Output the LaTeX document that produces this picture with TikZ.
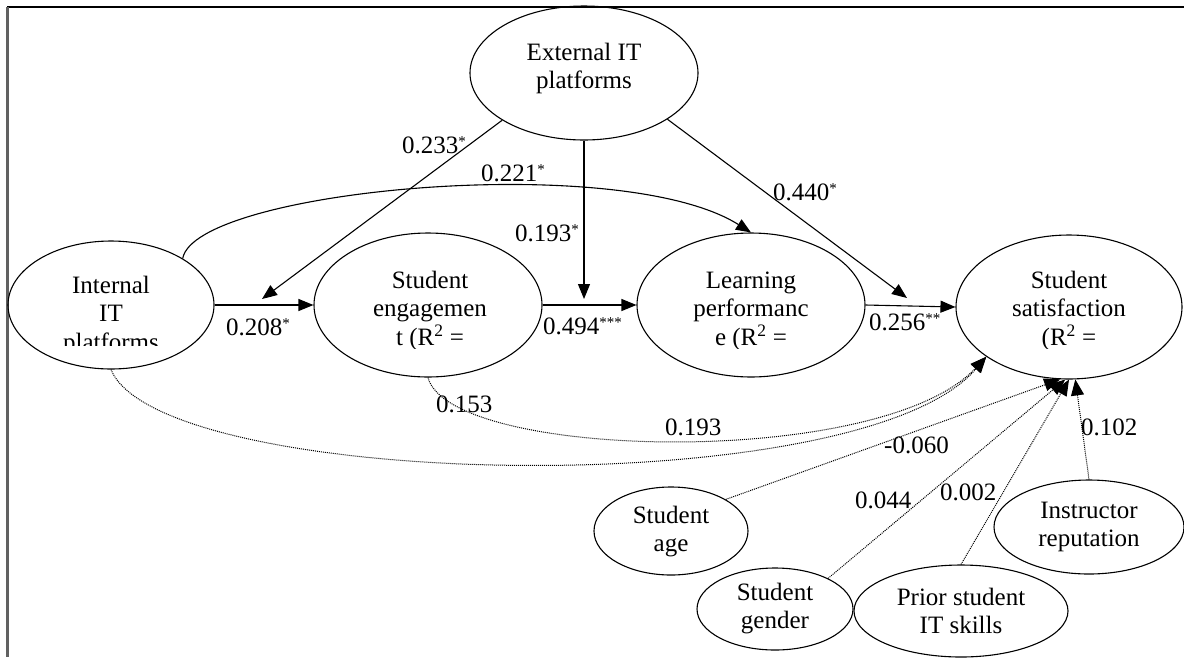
\documentclass[tikz,border=0pt]{standalone}
\usepackage{fontspec}
\setmainfont{Liberation Serif}
\usetikzlibrary{shapes.geometric,arrows.meta}
\newcommand\nodetxt{\fontsize{25}{28.5}\selectfont}
\newcommand\rows[1]{\begin{tabular}[t]{@{}c@{}}#1\end{tabular}}
\newcommand\sig[1]{\raisebox{7pt}{\fontsize{15}{15}\selectfont #1}}

\begin{document}
\begin{tikzpicture}[x=1pt,y=-1pt,
  construct/.style={draw, ellipse, line width=1.1pt, inner sep=0pt},
  caption/.style={anchor=base, inner sep=0pt, font=\nodetxt},
  coef/.style={anchor=base west, inner sep=0pt, font=\nodetxt},
  link/.style={line width=1.1pt, -{Triangle[length=15pt,width=12pt]}},
  ctrl/.style={line width=1pt, dash pattern=on 1pt off 1pt, -{Triangle[length=16pt,width=13pt]}},
]
\useasboundingbox (0,0) rectangle (1184,657);
\fill[white] (0,0) rectangle (1184,657);

% frame
\draw[line width=1.2pt] (7,7) -- (1184,7);
\draw[line width=2.4pt, black!62] (7.5,7) -- (7.5,657);

% constructs
\node[construct, minimum width=228pt, minimum height=134pt] (ext) at (584,73) {};
\node[construct, minimum width=206pt, minimum height=128pt] (int) at (111,305) {};
\node[construct, minimum width=228pt, minimum height=144pt] (eng) at (428,305) {};
\node[construct, minimum width=228pt, minimum height=144pt] (lrn) at (751,305) {};
\node[construct, minimum width=226pt, minimum height=144pt] (sat) at (1069,307) {};
\node[construct, minimum width=154pt, minimum height=88pt] (age) at (671,531) {};
\node[construct, minimum width=156pt, minimum height=82pt] (gen) at (775,609) {};
\node[construct, minimum width=214pt, minimum height=92pt] (pri) at (961,611) {};
\node[construct, minimum width=190pt, minimum height=94pt] (ins) at (1089,527) {};

% captions (the long ones are cut off by the box height)
\node[caption] (ext-t) at (584,60) {\rows{External IT\\platforms}};
\begin{scope}
  \clip (0,0) rectangle (1184,345);
  \node[caption] (int-t) at (111,293) {\rows{Internal\\IT\\platforms}};
\end{scope}
\begin{scope}
  \clip (0,0) rectangle (1184,348);
  \node[caption] (eng-t) at (430,288) {\rows{Student\\engagemen\\t (R\textsuperscript{2} =}};
  \node[caption] (lrn-t) at (751,288) {\rows{Learning\\performanc\\e (R\textsuperscript{2} =}};
  \node[caption] (sat-t) at (1069,288) {\rows{Student\\satisfaction\\(R\textsuperscript{2} =}};
\end{scope}
\node[caption] (age-t) at (671,523) {\rows{Student\\age}};
\node[caption] (gen-t) at (775,600) {\rows{Student\\gender}};
\node[caption] (pri-t) at (961,605) {\rows{Prior student\\IT skills}};
\node[caption] (ins-t) at (1089,518) {\rows{Instructor\\reputation}};

% direct paths
\draw[link] (int.east) -- (eng.west);
\draw[link] (eng.east) -- (lrn.west);
\draw[link] (lrn.east) -- (sat.west);

% moderating paths from external platforms
\coordinate (m1) at (262,299);
\coordinate (m2) at (584,299);
\coordinate (m3) at (907,298);
\draw[link] (ext.210.6) -- (m1);
\draw[link] (ext.south) -- (m2);
\draw[link] (ext.-29.5) -- (m3);
\draw[link] (int.33) .. controls (195,190) and (620,150) .. (lrn.north);

% control and indirect paths
\draw[ctrl] (int.south) .. controls (160,490) and (860,505) .. (sat.211.5);
\draw[ctrl] (eng.south) .. controls (450,460) and (880,470) .. (sat.211.5);
\draw[ctrl] (age.30) -- (sat.263);
\draw[ctrl] (gen.30) -- (sat.267);
\draw[ctrl] (pri.north) -- (sat.270);
\draw[ctrl] (ins.north) -- (sat.275);

% coefficients
\node[coef] (c1) at (402,153.5) {0.233\sig{*}};
\node[coef] (c2) at (481,181.5) {0.221\sig{*}};
\node[coef] (c3) at (515,241) {0.193\sig{*}};
\node[coef] (c4) at (773,200.5) {0.440\sig{*}};
\node[coef] (c5) at (226,335) {0.208\sig{*}};
\node[coef] (c6) at (543,334) {0.494\sig{***}};
\node[coef] (c7) at (869,330) {0.256\sig{**}};
\node[coef] (c8) at (665,435.5) {0.193};
\node[coef] (c9) at (436,412) {0.153};
\node[coef] (c10) at (884,453) {-0.060};
\node[coef] (c11) at (855,508) {0.044};
\node[coef] (c12) at (940,500) {0.002};
\node[coef] (c13) at (1081,435) {0.102};
\end{tikzpicture}
\end{document}
